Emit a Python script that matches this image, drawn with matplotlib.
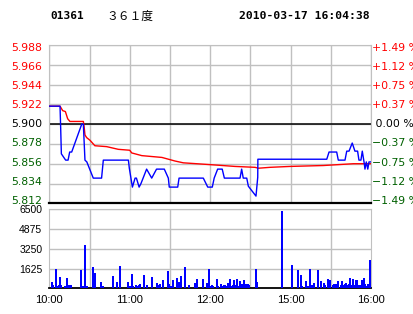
import matplotlib
matplotlib.use("Agg")
import matplotlib.pyplot as plt
import matplotlib.transforms as mtransforms
import numpy as np

# ---------------- data ----------------
prev_close = 5.900
price_levels = [5.988, 5.966, 5.944, 5.922, 5.900, 5.878, 5.856, 5.834, 5.812]
vol_levels = [1625, 3250, 4875, 6500]
time_ticks = [0, 60, 120, 180, 240]          # trading minutes since 10:00 (lunch removed)
time_labels = ["10:00", "11:00", "12:00", "15:00", "16:00"]

price_t = [0, 8, 8.5, 9, 12.2, 14, 15.2, 16.7, 24.2, 25.4, 26.6, 28, 32.8, 39, 40.3, 59, 59.7,
           62, 64, 65, 67, 68.4, 72.6, 76.4, 80, 85.8, 88.8, 89.5, 95.8, 96.8, 114.9, 118.2,
           121.6, 123, 125.6, 129, 130.6, 142.3, 143.5, 144.7, 147.3, 148.5, 154.2, 155.5,
           155.6, 207, 208.7, 214.4, 215.6, 220.6, 221.9, 223.6, 226, 228, 230, 231, 232.5,
           233.5, 235, 235.5, 236.5, 237.6, 238.5, 240]
price_v = [5.920, 5.920, 5.895, 5.867, 5.860, 5.860, 5.869, 5.869, 5.900, 5.900, 5.860, 5.858,
           5.840, 5.840, 5.860, 5.860, 5.851, 5.830, 5.840, 5.840, 5.830, 5.834, 5.850, 5.840,
           5.850, 5.850, 5.840, 5.830, 5.830, 5.840, 5.840, 5.830, 5.830, 5.840, 5.850, 5.850,
           5.840, 5.840, 5.850, 5.840, 5.840, 5.831, 5.820, 5.841, 5.861, 5.861, 5.869, 5.869,
           5.860, 5.860, 5.870, 5.870, 5.879, 5.870, 5.870, 5.860, 5.860, 5.870, 5.856, 5.850,
           5.858, 5.850, 5.858, 5.858]

avg_t = [0, 8, 10, 12, 13.7, 15.4, 25.4, 26, 26.6, 27.9, 30.4, 34, 42.8, 51.5, 60, 61.5, 69,
         84, 93.8, 100, 119.9, 138.5, 153.5, 156, 164.7, 179.6, 204.4, 226.8, 240]
avg_v = [5.920, 5.920, 5.915, 5.914, 5.906, 5.903, 5.903, 5.897, 5.888, 5.885, 5.882, 5.876,
         5.875, 5.872, 5.871, 5.868, 5.865, 5.863, 5.859, 5.857, 5.855, 5.853, 5.852, 5.851,
         5.852, 5.853, 5.854, 5.856, 5.856]

volume_bars = [
    (2.3, 493), (2.8, 274), (5.2, 1590), (5.9, 190), (7.5, 274), (8.2, 930), (9, 274),
    (12, 190), (13.4, 850), (14.2, 274), (14.9, 274), (16.4, 274), (23.9, 1507), (25.4, 190),
    (26.9, 3560), (28.3, 190), (32.8, 1750), (34.3, 1260), (38.8, 520), (40.3, 190),
    (47.7, 1014), (50.7, 520), (53, 1836), (59, 520), (59.7, 190), (61.2, 190), (61.9, 1180),
    (62.7, 190), (64.9, 274), (65.6, 190), (67.1, 274), (67.9, 356), (70.9, 1096), (73.1, 274),
    (76.8, 930), (80.6, 438), (82.1, 274), (82.8, 356), (85, 685), (88.8, 1425), (89.5, 356),
    (91, 190), (92.5, 685), (95.5, 850), (97, 520), (97.7, 356), (98.5, 1014), (101.5, 1750),
    (104.4, 274), (109, 438), (110.4, 767), (114.9, 767), (117.9, 438), (119.4, 1590),
    (120.9, 190), (121.6, 274), (122.3, 190), (125.3, 767), (126, 190), (128.3, 356),
    (129, 190), (130.6, 274), (131.3, 274), (132, 190), (133.5, 438), (135, 767), (135.7, 190),
    (137.3, 274), (138, 685), (139.5, 274), (140.3, 767), (141, 190), (142.5, 603),
    (143.2, 274), (144, 356), (145.5, 685), (146.2, 356), (147, 356), (148.5, 356),
    (149.2, 274), (154.4, 1590), (155.2, 520), (173.8, 6360), (181.3, 1918), (185.8, 1507),
    (188, 1096), (188.7, 190), (191.7, 603), (193.2, 190), (194.7, 1590), (196.2, 274),
    (196.9, 190), (197.7, 438), (200.7, 1507), (202.9, 603), (205.2, 438), (205.9, 274),
    (208.2, 767), (208.9, 603), (209.6, 685), (211.9, 274), (212.6, 356), (214.1, 356),
    (214.8, 356), (215.6, 603), (217.8, 274), (218.6, 603), (220, 274), (220.8, 356),
    (221.6, 438), (223, 274), (223.8, 356), (224.6, 850), (226, 274), (226.8, 767),
    (227.5, 274), (229.1, 685), (229.8, 685), (231.3, 274), (232, 274), (233.5, 685),
    (235, 850), (235.7, 356), (236.5, 190), (238, 356), (238.7, 274), (239.5, 2330),
]
vol_t = [t for t, v in volume_bars]
vol_v = [v for t, v in volume_bars]

# ---------------- style ----------------
RED = "#ff0000"
GREEN = "#006000"
BLUE = "#0000ff"
GRID = "#c0c0c0"

W, H = 414, 314
fig = plt.figure(figsize=(W / 100, H / 100), dpi=100)

def fr(x0, y0, x1, y1):
    return [x0 / W, 1 - y1 / H, (x1 - x0) / W, (y1 - y0) / H]

ax = fig.add_axes(fr(49.3, 45, 371, 203.3))
axv = fig.add_axes(fr(49.3, 209.3, 371, 288.3))

def lvl_color(v):
    if abs(v - prev_close) < 1e-9:
        return "black"
    return RED if v > prev_close else GREEN

def shift_down(label, px):
    label.set_transform(label.get_transform() +
                        mtransforms.ScaledTranslation(0, -px / 100, fig.dpi_scale_trans))

# main price panel
ax.set_xlim(0, 240)
ax.set_ylim(price_levels[-1], price_levels[0])
ax.set_xticks(np.arange(0, 241, 30))
ax.set_yticks(price_levels)
ax.grid(True, color=GRID, lw=1.0)
ax.set_axisbelow(True)
ax.tick_params(axis="x", length=0, labelbottom=False)
ax.tick_params(axis="y", length=0, pad=5)
ax.set_yticklabels([f"{v:.3f}" for v in price_levels], fontsize=7.8, family="DejaVu Sans")
for i, (lab, v) in enumerate(zip(ax.get_yticklabels(), price_levels)):
    lab.set_color(lvl_color(v))
    shift_down(lab, 2.0 - 0.7 * i)
for s in ["left", "top", "right"]:
    ax.spines[s].set_color(GRID)
ax.spines["bottom"].set_color("black")
ax.spines["bottom"].set_linewidth(1.6)
ax.axhline(prev_close, color="black", lw=1.1, zorder=2)
ax.plot(avg_t, avg_v, color=RED, lw=1.0, zorder=3)
ax.plot(price_t, price_v, color=BLUE, lw=1.0, zorder=4)

ax2 = ax.twinx()
ax2.set_ylim(ax.get_ylim())
ax2.set_yticks(price_levels)
pct_labels = []
for v in price_levels:
    p = (v - prev_close) / prev_close * 100
    if abs(p) < 1e-9:
        pct_labels.append(" 0.00 %")
    elif p > 0:
        pct_labels.append(f"+{p:.2f} %")
    else:
        pct_labels.append(f"\u2212{-p:.2f} %")
ax2.set_yticklabels(pct_labels, fontsize=7.8, family="DejaVu Sans")
ax2.tick_params(axis="y", length=0, pad=1)
for i, (lab, v) in enumerate(zip(ax2.get_yticklabels(), price_levels)):
    lab.set_color(lvl_color(v))
    shift_down(lab, 2.0 - 0.7 * i)
for s in ax2.spines.values():
    s.set_visible(False)

# volume panel
axv.set_xlim(0, 240)
axv.set_ylim(0, vol_levels[-1])
vticks = vol_levels[::-1]
axv.set_yticks(vticks)
axv.set_yticklabels([str(v) for v in vticks], fontsize=7.5, family="Liberation Sans")
for i, lab in enumerate(axv.get_yticklabels()):
    shift_down(lab, 4.4 - 0.8 * i)
axv.grid(True, axis="y", color=GRID, lw=1.0)
axv.set_axisbelow(True)
axv.tick_params(axis="both", length=0)
axv.tick_params(axis="y", pad=5)
axv.tick_params(axis="x", pad=5)
axv.set_xticks(time_ticks)
axv.set_xticklabels(time_labels, fontsize=8, family="Liberation Sans")
axv.set_xticks(np.arange(0, 241, 30), minor=True)
axv.grid(True, which="minor", axis="x", color=GRID, lw=1.0)
axv.tick_params(which="minor", length=0)
for s in ["left", "top", "right"]:
    axv.spines[s].set_color(GRID)
axv.spines["bottom"].set_color("black")
axv.spines["bottom"].set_linewidth(1.3)
axv.vlines(vol_t, 0, vol_v, colors=BLUE, lw=1.1, antialiased=False, zorder=3)

# header
fig.text(50 / W, 1 - 16 / H, "01361", fontsize=8, fontweight="bold",
         family="DejaVu Sans Mono", va="center", ha="left")
fig.text(106 / W, 1 - 16 / H, "\uff13\uff16\uff11度", fontsize=8.5,
         family=["Noto Sans CJK SC", "DejaVu Sans"], va="center", ha="left")
fig.text(370 / W, 1 - 16 / H, "2010-03-17 16:04:38", fontsize=8.2, fontweight="bold",
         family="DejaVu Sans Mono", va="center", ha="right")

fig.savefig("out.png", dpi=100)
